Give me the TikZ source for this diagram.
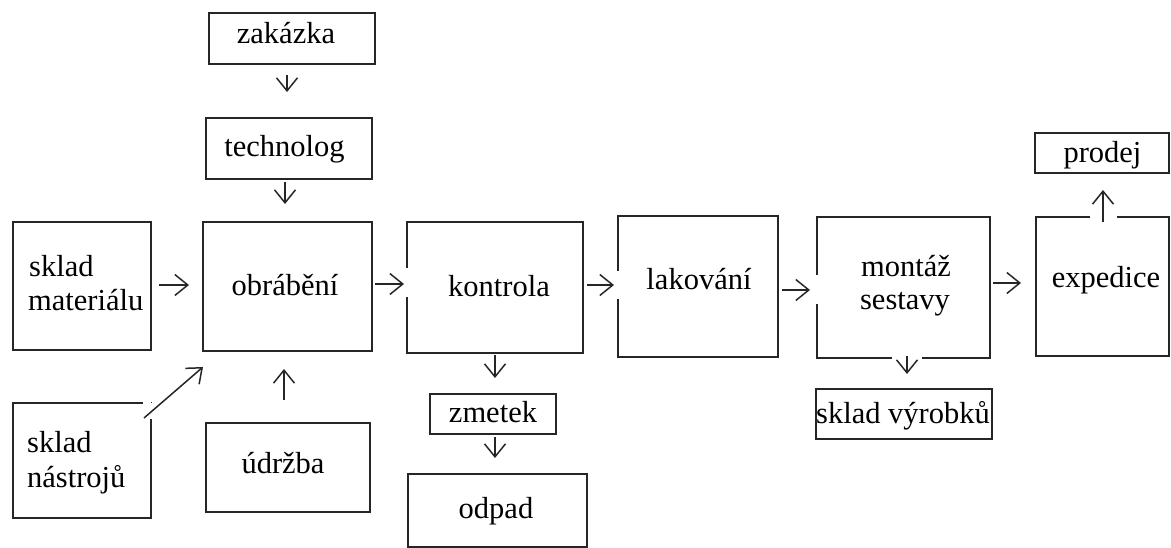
\documentclass[tikz,border=0pt]{standalone}
\usepackage{fontspec}
\setmainfont{Liberation Serif}
\usetikzlibrary{arrows.meta}
\begin{document}
\begin{tikzpicture}[x=1pt,y=-1pt,
  box/.style={draw=black!85,line width=1.6pt,inner sep=0pt,outer sep=0pt},
  txt/.style={anchor=base,inner sep=0pt,font=\fontsize{30.5}{34}\selectfont},
  txtl/.style={anchor=base west,inner sep=0pt,font=\fontsize{30.5}{34}\selectfont},
  arr/.style={draw=black!85,line width=1.5pt,-{Straight Barb[length=13pt,width=21pt,line width=1.5pt]}},
  gap/.style={draw=white,line width=4pt}]
\useasboundingbox (0,0) rectangle (1171,548);
\fill[white] (0,0) rectangle (1171,548);
% boxes
\node[box,minimum width=166pt,minimum height=51pt] (zak) at (292,38.5) {};
\node[box,minimum width=166pt,minimum height=61pt] (tech) at (289,148.5) {};
\node[box,minimum width=138pt,minimum height=128pt] (skm) at (82,286) {};
\node[box,minimum width=169pt,minimum height=129pt] (obr) at (287.5,286.5) {};
\node[box,minimum width=138pt,minimum height=115pt] (skn) at (82,460.5) {};
\node[box,minimum width=164pt,minimum height=89pt] (udr) at (288,467.5) {};
\node[box,minimum width=176pt,minimum height=131pt] (kon) at (495,287.5) {};
\node[box,minimum width=160pt,minimum height=141pt] (lak) at (698,286.5) {};
\node[box,minimum width=126pt,minimum height=40pt] (zme) at (493,414) {};
\node[box,minimum width=179pt,minimum height=73pt] (odp) at (497.5,510.5) {};
\node[box,minimum width=173pt,minimum height=141pt] (mon) at (903.5,287.5) {};
\node[box,minimum width=133pt,minimum height=139pt] (exp) at (1102.5,286.5) {};
\node[box,minimum width=134pt,minimum height=40pt] (pro) at (1102,153) {};
\node[box,minimum width=176pt,minimum height=50pt] (skv) at (904,414) {};
% gaps in box borders
\draw[gap] (kon.west |- 0,268) -- (kon.west |- 0,297);
\draw[gap] (lak.west |- 0,271) -- (lak.west |- 0,299);
\draw[gap] (mon.west |- 0,275) -- (mon.west |- 0,304);
\draw[gap] (892,0 |- mon.south) -- (922,0 |- mon.south);
\draw[gap] (1090,0 |- exp.north) -- (1117,0 |- exp.north);
\draw[gap] (143,0 |- skn.north) -- (skn.north east);
\draw[gap] (skn.north east) -- (skn.east |- 0,419);
% texts
\node[txt] (tzak) at (286,44) {zakázka};
\node[txt] (ttech) at (284.5,157) {technolog};
\node[txtl] (tskm1) at (29,277) {sklad};
\node[txtl] (tskm2) at (28,311) {materiálu};
\node[txt] (tobr) at (285,296) {obrábění};
\node[txtl] (tskn1) at (27,452) {sklad};
\node[txtl] (tskn2) at (27,487) {nástrojů};
\node[txt] (tudr) at (283,473) {údržba};
\node[txt] (tkon) at (499,297) {kontrola};
\node[txt] (tlak) at (699,290) {lakování};
\node[txt] (tzme) at (493,422) {zmetek};
\node[txt] (todp) at (496,518) {odpad};
\node[txt] (tmon1) at (906,277) {montáž};
\node[txt] (tmon2) at (905,310) {sestavy};
\node[txt] (texp) at (1106,288) {expedice};
\node[txt] (tpro) at (1102.5,163) {prodej};
\node[txt] (tskv) at (903,423) {sklad výrobků};
% arrow end points
\coordinate (a1s) at (287,75);   \coordinate (a1e) at (287,92);
\coordinate (a2s) at (285,182);  \coordinate (a2e) at (285,204);
\coordinate (a3s) at (159,285);  \coordinate (a3e) at (189,285);
\coordinate (a4s) at (375,284);  \coordinate (a4e) at (404,284);
\coordinate (a5s) at (144,418);  \coordinate (a5e) at (203,367);
\coordinate (a6s) at (284,400);  \coordinate (a6e) at (284,369);
\coordinate (a7s) at (587,285);  \coordinate (a7e) at (614,285);
\coordinate (a8s) at (782,290);  \coordinate (a8e) at (810,290);
\coordinate (a9s) at (495,355);  \coordinate (a9e) at (495,378);
\coordinate (a10s) at (495,437); \coordinate (a10e) at (495,458);
\coordinate (a11s) at (993,283); \coordinate (a11e) at (1021,283);
\coordinate (a12s) at (1103,222);\coordinate (a12e) at (1103,190);
\coordinate (a13s) at (907,356); \coordinate (a13e) at (907,374);
% arrows
\draw[arr] (a1s) -- (a1e);
\draw[arr] (a2s) -- (a2e);
\draw[arr] (a3s) -- (a3e);
\draw[arr] (a4s) -- (a4e);
\draw[arr] (a5s) -- (a5e);
\draw[arr] (a6s) -- (a6e);
\draw[arr] (a7s) -- (a7e);
\draw[arr] (a8s) -- (a8e);
\draw[arr] (a9s) -- (a9e);
\draw[arr] (a10s) -- (a10e);
\draw[arr] (a11s) -- (a11e);
\draw[arr] (a12s) -- (a12e);
\draw[arr] (a13s) -- (a13e);
\end{tikzpicture}
\end{document}
